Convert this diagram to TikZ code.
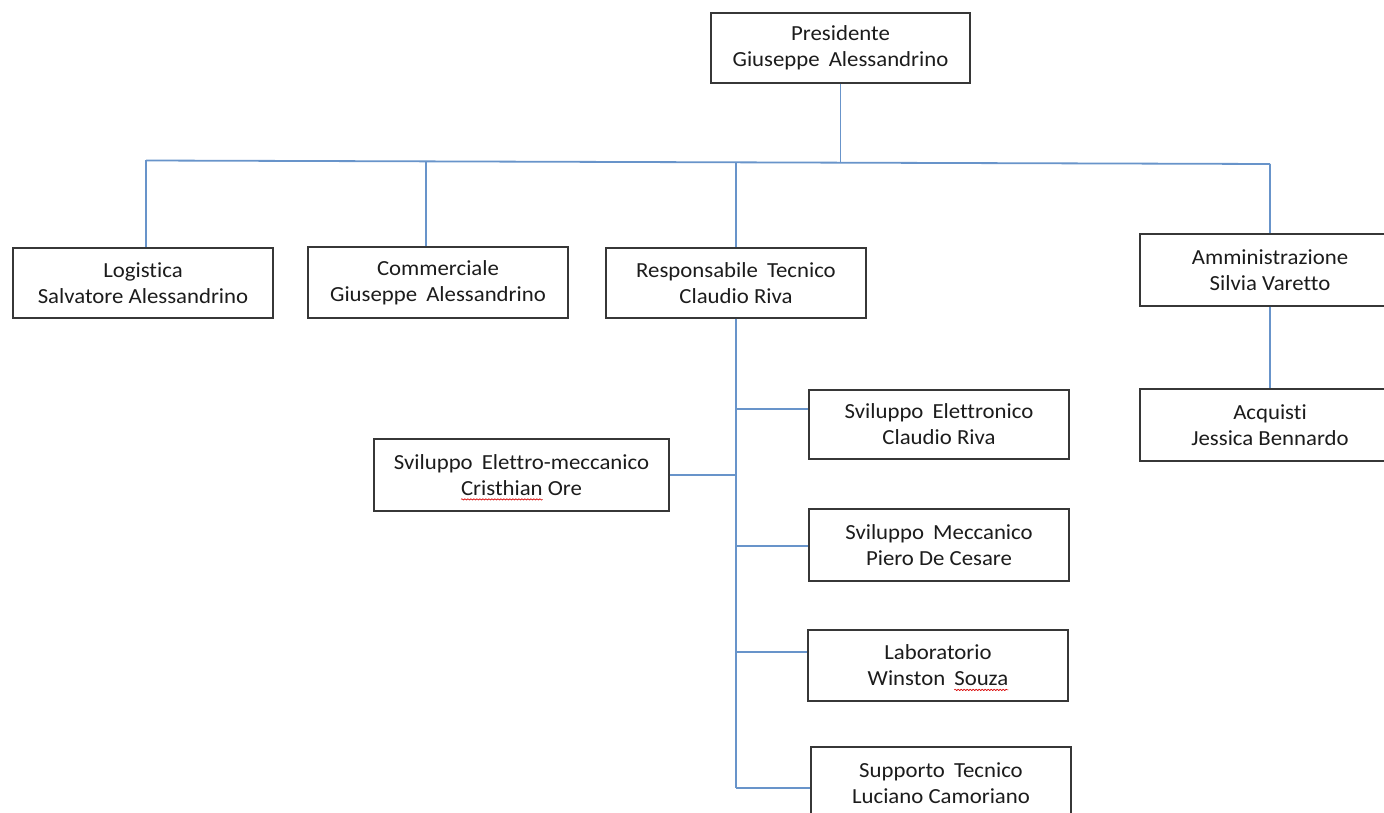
\documentclass[tikz,border=0pt]{standalone}
\usepackage{fontspec}
\setmainfont{Carlito}[Ligatures=NoCommon,FakeStretch=1.06]
\usetikzlibrary{decorations.pathmorphing}
\definecolor{linec}{RGB}{104,148,202}
\definecolor{boxc}{RGB}{55,55,55}
\definecolor{textc}{RGB}{28,28,28}
\newcommand\sq[1]{\tikz[baseline=(w.base)]{\node[inner sep=0pt,outer sep=0pt,draw=none,fill=none,minimum width=0pt,minimum height=0pt](w){#1};\draw[overlay,red!85!black,line width=0.6pt,decorate,decoration={snake,amplitude=0.7pt,segment length=3pt}]([yshift=-4pt]w.base west)--([yshift=-4pt]w.base east);}}
\newcommand\ws{\hspace{0.42em}}
\tikzset{
  orgbox/.style={draw=boxc,line width=1.4pt,fill=white,text=textc,align=center,inner sep=0pt,
    minimum width=260pt,minimum height=70pt,font=\fontsize{21.5}{26}\selectfont},
  conn/.style={draw=linec,line width=1.8pt}
}
\begin{document}
\begin{tikzpicture}[x=1pt,y=-1pt]
\useasboundingbox (0,0) rectangle (1384,813);
\fill[white] (0,0) rectangle (1384,813);
% boxes
\node[orgbox,minimum width=259pt] (pres) at (840.5,48) {Presidente\\Giuseppe\ws Alessandrino};
\node[orgbox] (log) at (143,283) {Logistica\\Salvatore Alessandrino};
\node[orgbox,minimum height=71pt] (com) at (438,282.5) {Commerciale\\Giuseppe\ws Alessandrino};
\node[orgbox] (resp) at (736,283) {Responsabile\ws Tecnico\\Claudio Riva};
\node[orgbox,minimum height=72pt] (amm) at (1270,270) {Amministrazione\\Silvia Varetto};
\node[orgbox,minimum height=72pt] (acq) at (1270,425) {Acquisti\\Jessica Bennardo};
\node[orgbox,minimum height=69pt] (elet) at (939,424.5) {Sviluppo\ws Elettronico\\Claudio Riva};
\node[orgbox,minimum width=295pt,minimum height=72pt] (elmec) at (521.5,475) {Sviluppo\ws Elettro-meccanico\\\sq{Cristhian} Ore};
\node[orgbox,minimum height=72pt] (mecc) at (939,545) {Sviluppo\ws Meccanico\\Piero De Cesare};
\node[orgbox,minimum height=71pt] (lab) at (938,665.5) {Laboratorio\\Winston\ws \sq{Souza}};
\node[orgbox,minimum height=72pt] (supp) at (941,783) {Supporto\ws Tecnico\\Luciano Camoriano};
% bus
\coordinate (busL) at (146,160.5);
\coordinate (busR) at (1270,164);
\coordinate (bcom) at (426,161.4);
\coordinate (bresp) at (736,162.3);
\coordinate (bpres) at (840.5,162.7);
\draw[conn] (busL) -- (busR);
\draw[conn] (pres.south) -- (bpres);
\draw[conn] (busL) -- (busL |- log.north);
\draw[conn] (bcom) -- (bcom |- com.north);
\draw[conn] (bresp) -- (resp.north);
\draw[conn] (busR) -- (amm.north);
\draw[conn] (amm.south) -- (acq.north);
% trunk of Responsabile Tecnico
\coordinate (j1) at (736,409);
\coordinate (j2) at (736,475);
\coordinate (j3) at (736,546);
\coordinate (j4) at (736,652);
\coordinate (j5) at (736,788);
\draw[conn] (resp.south) -- (j5);
\draw[conn] (j1) -- (j1 -| elet.west);
\draw[conn] (j2) -- (j2 -| elmec.east);
\draw[conn] (j3) -- (j3 -| mecc.west);
\draw[conn] (j4) -- (j4 -| lab.west);
\draw[conn] (j5) -- (j5 -| supp.west);
\end{tikzpicture}
\end{document}
